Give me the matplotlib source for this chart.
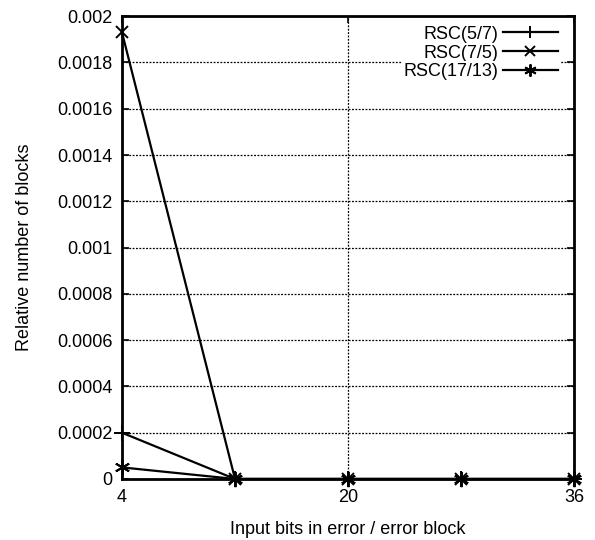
import numpy as np
import matplotlib
matplotlib.use('Agg')
import matplotlib.pyplot as plt

plt.rcParams['font.family'] = ['Liberation Sans', 'DejaVu Sans']

bits = [4, 12, 20, 28, 36]
rsc_5_7 = [0.0002, 0.0, 0.0, 0.0, 0.0]
rsc_7_5 = [0.00193, 0.0, 0.0, 0.0, 0.0]
rsc_17_13 = [0.00005, 0.0, 0.0, 0.0, 0.0]
labels = ['RSC(5/7)', 'RSC(7/5)', 'RSC(17/13)']
xticks = [4, 20, 36]
yticks = np.arange(0, 0.00201, 0.0002)
ytick_labels = ['0', '0.0002', '0.0004', '0.0006', '0.0008', '0.001',
                '0.0012', '0.0014', '0.0016', '0.0018', '0.002']

fig = plt.figure(figsize=(5.95, 5.4), dpi=100)
ax = fig.add_axes([0.205, 0.113, 0.76, 0.857])

fs = 13
l1, = ax.plot(bits, rsc_5_7, color='black', lw=1.6, marker='+', ms=11, mew=1.4,
              clip_on=False, zorder=3)
l2, = ax.plot(bits, rsc_7_5, color='black', lw=1.6, marker='x', ms=9, mew=1.4,
              clip_on=False, zorder=3)
l3, = ax.plot(bits, rsc_17_13, color='black', lw=1.6, marker=(6, 2, 0), ms=11, mew=1.4,
              clip_on=False, zorder=3)

ax.set_xlim(4, 36)
ax.set_ylim(0, 0.002)
ax.set_xticks(xticks)
ax.set_xticklabels([str(v) for v in xticks], fontsize=fs)
ax.set_yticks(yticks)
ax.set_yticklabels(ytick_labels, fontsize=fs)
ax.tick_params(direction='in', length=5, width=1.2, top=True, right=True, pad=7)

ax.grid(True, color='black', linestyle=(0, (1.5, 1.2)), lw=0.9)
for s in ax.spines.values():
    s.set_linewidth(2)

ax.set_xlabel('Input bits in error / error block', fontsize=fs, labelpad=11)
ax.set_ylabel('Relative number of blocks', fontsize=fs, labelpad=17)

# one legend per entry so the labels end up right-aligned like gnuplot's key
rows = [0.961, 0.920, 0.880]
for handle, lab, yy in zip([l1, l2, l3], labels, rows):
    leg = ax.legend([handle], [lab], loc='center right', bbox_to_anchor=(0.968, yy),
                    markerfirst=False, frameon=True, fancybox=False, fontsize=fs,
                    handlelength=3.0, borderpad=0.12, borderaxespad=0,
                    handletextpad=0.3, markerscale=0.8)
    leg.get_frame().set_edgecolor('none')
    leg.get_frame().set_facecolor('white')
    leg.get_frame().set_alpha(1)
    ax.add_artist(leg)

fig.savefig('out.png', dpi=100)
